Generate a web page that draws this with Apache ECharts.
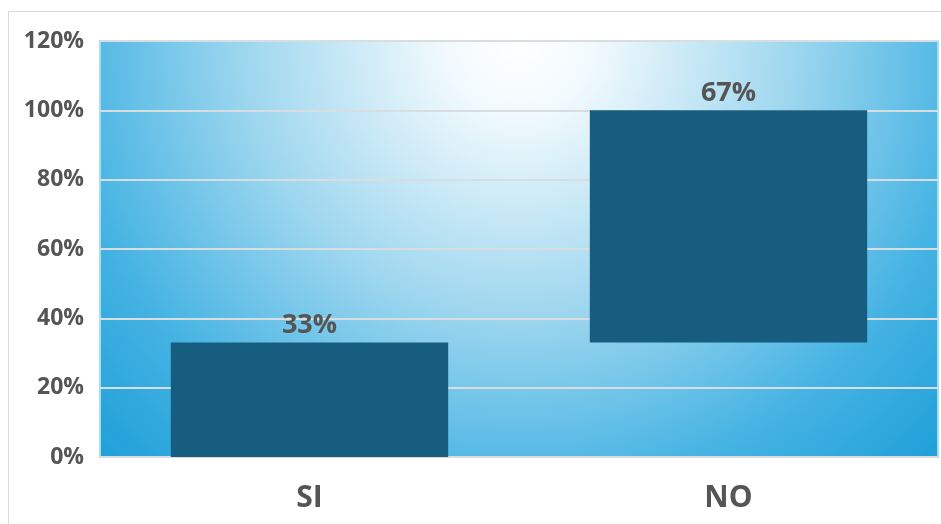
<!DOCTYPE html>
<html>
<head>
<meta charset="utf-8">
<script src="https://cdn.jsdelivr.net/npm/echarts@6/dist/echarts.min.js"></script>
<style>
  html, body { margin: 0; padding: 0; background: #ffffff; }
  #chart { width: 941px; height: 524px; }
</style>
</head>
<body>
<div id="chart"></div>
<script>
// Answer categories and their shares (percent)
const categories = ['SI', 'NO'];
const shares = [33, 67];
// Floating offsets so each bar starts where the previous one ends
const offsets = [0, 33];
// Value axis
const axisMin = 0;
const axisMax = 120;
const axisStep = 20;

const chart = echarts.init(document.getElementById('chart'));

const plotBackground = {
  type: 'radial',
  x: 0.5, y: 0, r: 1.45,
  colorStops: [
    { offset: 0, color: '#ffffff' },
    { offset: 0.12, color: '#f2fafd' },
    { offset: 0.45, color: '#9fd7ef' },
    { offset: 0.75, color: '#45b3e3' },
    { offset: 1, color: '#1b9dd7' }
  ]
};

chart.setOption({
  animation: false,
  graphic: [{
    type: 'rect',
    shape: { x: 8.5, y: 11.5, width: 960, height: 540 },
    style: { fill: 'none', stroke: '#d9d9d9', lineWidth: 1 },
    silent: true,
    z: -10
  }],
  grid: {
    left: 100, top: 41, right: 3, bottom: 67,
    show: true,
    backgroundColor: plotBackground,
    borderColor: '#a8dcf1',
    borderWidth: 2
  },
  xAxis: {
    type: 'category',
    data: categories,
    axisLine: { show: false },
    axisTick: { show: false },
    axisLabel: {
      margin: 26,
      color: '#555555',
      fontSize: 30,
      fontWeight: 'bold',
      fontFamily: 'Open Sans'
    }
  },
  yAxis: {
    type: 'value',
    min: axisMin,
    max: axisMax,
    interval: axisStep,
    axisLine: { show: false },
    axisTick: { show: false },
    splitLine: { lineStyle: { color: '#d8dde0', width: 2 } },
    axisLabel: {
      margin: 16,
      formatter: '{value}%',
      color: '#555555',
      fontSize: 23,
      fontWeight: 'bold',
      fontFamily: 'Open Sans'
    }
  },
  series: [
    {
      type: 'bar',
      stack: 'total',
      data: offsets,
      barWidth: '66.2%',
      itemStyle: { color: 'transparent' },
      silent: true
    },
    {
      type: 'bar',
      stack: 'total',
      data: shares,
      barWidth: '66.2%',
      itemStyle: { color: '#175d7f' },
      label: {
        show: true,
        position: 'top',
        distance: 4,
        formatter: '{c}%',
        color: '#555555',
        fontSize: 27,
        fontWeight: 'bold',
        fontFamily: 'Open Sans'
      }
    }
  ]
});
</script>
</body>
</html>
